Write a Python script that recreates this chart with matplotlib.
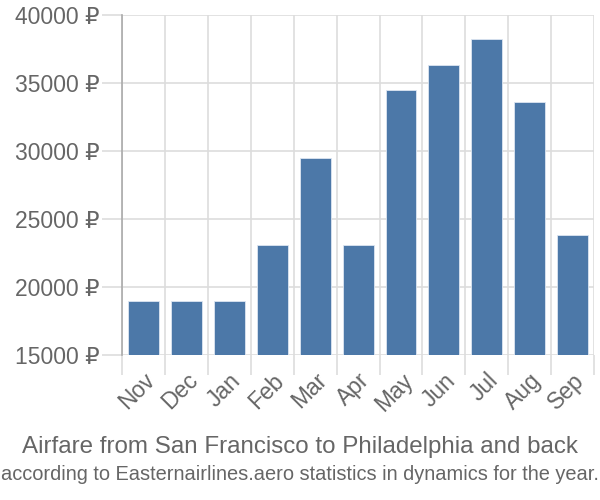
import numpy as np
import matplotlib.pyplot as plt
from matplotlib.ticker import FuncFormatter, FixedLocator

months = ["Nov", "Dec", "Jan", "Feb", "Mar", "Apr", "May", "Jun", "Jul", "Aug", "Sep"]
prices = [19000, 19000, 19000, 23100, 29500, 23100, 34500, 36300, 38200, 33600, 23800]
y_ticks = [15000, 20000, 25000, 30000, 35000, 40000]

plt.rcParams["font.family"] = ["Liberation Sans", "DejaVu Sans"]

grid_color = "#dddddd"
text_color = "#666666"

fig = plt.figure(figsize=(6, 5), dpi=100)
ax = fig.add_axes([0.2033, 0.29, 0.787, 0.68])

x = np.arange(len(months))
ax.bar(x, prices, width=0.72, color="#4c78a8", edgecolor="#dce6f2", linewidth=0.6,
       zorder=3)

ax.set_xlim(-0.5, len(months) - 0.5)
ax.set_ylim(15000, 40000)

ax.set_yticks(y_ticks)
ax.yaxis.set_major_formatter(FuncFormatter(lambda v, p: f"{int(v)} ₽"))
ax.tick_params(axis="y", length=14.4, color=grid_color, width=1.2, labelsize=16.5,
               labelcolor=text_color, pad=1.5)

ax.set_xticks(x)
ax.set_xticklabels(months, rotation=45, ha="right", rotation_mode="anchor")
ax.tick_params(axis="x", which="major", length=0, labelsize=16.5, labelcolor=text_color, pad=10)
ax.xaxis.set_minor_locator(FixedLocator(np.arange(-0.5, len(months), 1.0)))
ax.tick_params(axis="x", which="minor", length=14.4, color=grid_color, width=1.2)

ax.grid(axis="y", which="major", color=grid_color, linewidth=1.2, zorder=0)
ax.grid(axis="x", which="minor", color=grid_color, linewidth=1.2, zorder=0)
ax.set_axisbelow(True)

for side in ["top", "right", "bottom"]:
    ax.spines[side].set_visible(False)
ax.spines["left"].set_color("#aaaaaa")
ax.spines["left"].set_linewidth(1.2)

fig.text(0.5, 0.106, "Airfare from San Francisco to Philadelphia and back",
         ha="center", va="center", fontsize=17.4, color=text_color)
fig.text(0.5, 0.052, "according to Easternairlines.aero statistics in dynamics for the year.",
         ha="center", va="center", fontsize=14.4, color=text_color)

fig.savefig("out.png", dpi=100)
